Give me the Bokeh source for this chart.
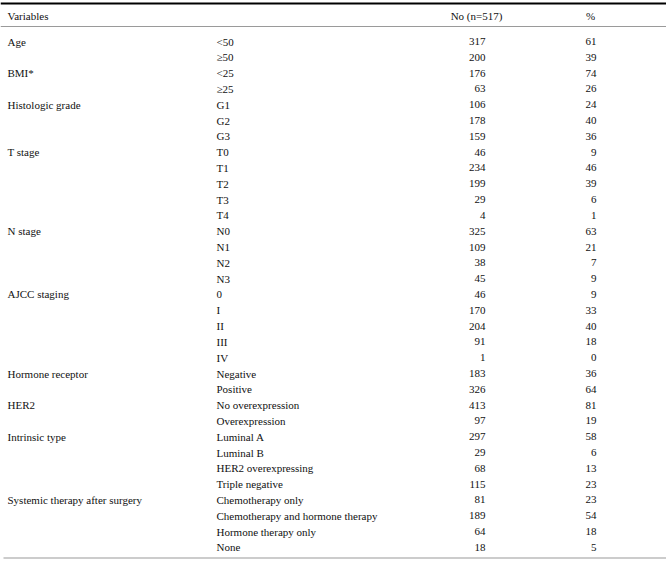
from bokeh.plotting import figure
from bokeh.models import Range1d
from bokeh.core.properties import value
from bokeh.embed import file_html
from bokeh.resources import INLINE

# ---- data ----
variables = ["Age", "BMI*", "Histologic grade", "T stage", "N stage", "AJCC staging",
             "Hormone receptor", "HER2", "Intrinsic type", "Systemic therapy after surgery"]
categories = [
    ["<50", "≥50"],
    ["<25", "≥25"],
    ["G1", "G2", "G3"],
    ["T0", "T1", "T2", "T3", "T4"],
    ["N0", "N1", "N2", "N3"],
    ["0", "I", "II", "III", "IV"],
    ["Negative", "Positive"],
    ["No overexpression", "Overexpression"],
    ["Luminal A", "Luminal B", "HER2 overexpressing", "Triple negative"],
    ["Chemotherapy only", "Chemotherapy and hormone therapy", "Hormone therapy only", "None"],
]
counts = [
    [317, 200],
    [176, 63],
    [106, 178, 159],
    [46, 234, 199, 29, 4],
    [325, 109, 38, 45],
    [46, 170, 204, 91, 1],
    [183, 326],
    [413, 97],
    [297, 29, 68, 115],
    [81, 189, 64, 18],
]
percents = [
    [61, 39],
    [74, 26],
    [24, 40, 36],
    [9, 46, 39, 6, 1],
    [63, 21, 7, 9],
    [9, 33, 40, 18, 0],
    [36, 64],
    [81, 19],
    [58, 6, 13, 23],
    [23, 54, 18, 5],
]
headers = ["Variables", "No (n=517)", "%"]

# ---- layout ----
W, H = 666, 563
FONT = "Liberation Serif"
FS = "11px"
x_var, x_sub, x_no, x_pct = 7, 216, 485, 596
x_no_head, x_pct_head = 476, 590
y_head = 15
y0, dy = 41, 15.81

rows_var, rows_sub, rows_no, rows_pct, ys, yv = [], [], [], [], [], []
i = 0
for v, cats, cs, ps in zip(variables, categories, counts, percents):
    rows_var.append(v)
    yv.append(y0 + i * dy)
    for c, n, pc in zip(cats, cs, ps):
        rows_sub.append(c)
        rows_no.append(str(n))
        rows_pct.append(str(pc))
        ys.append(y0 + i * dy)
        i += 1

p = figure(width=W, height=H, output_backend="svg", toolbar_location=None,
           x_range=Range1d(0, W), y_range=Range1d(H, 0), min_border=0)
p.axis.visible = False
p.grid.visible = False
p.outline_line_color = None
p.background_fill_color = "white"
p.border_fill_color = "white"

common = dict(text_font=value(FONT), text_font_size=FS, text_color="#111111",
              text_baseline="middle")

# header
p.text(x=[x_var], y=[y_head], text=[headers[0]], text_align="left", **common)
p.text(x=[x_no_head], y=[y_head], text=[headers[1]], text_align="center", **common)
p.text(x=[x_pct_head], y=[y_head], text=[headers[2]], text_align="center", **common)

p.text(x=[x_var] * len(rows_var), y=yv, text=rows_var, text_align="left", **common)
p.text(x=[x_sub] * len(rows_sub), y=ys, text=rows_sub, text_align="left", **common)
p.text(x=[x_no] * len(rows_no), y=ys, text=rows_no, text_align="right", **common)
p.text(x=[x_pct] * len(rows_pct), y=ys, text=rows_pct, text_align="right", **common)

# rules
p.segment(x0=[0], y0=[3], x1=[W], y1=[3], line_color="black", line_width=2)
p.segment(x0=[0], y0=[26], x1=[W], y1=[26], line_color="#9a9a9a", line_width=1)
p.segment(x0=[3], y0=[557.5], x1=[W], y1=[557.5], line_color="#cccccc", line_width=2)

open("out.html", "w").write(file_html(p, INLINE))
